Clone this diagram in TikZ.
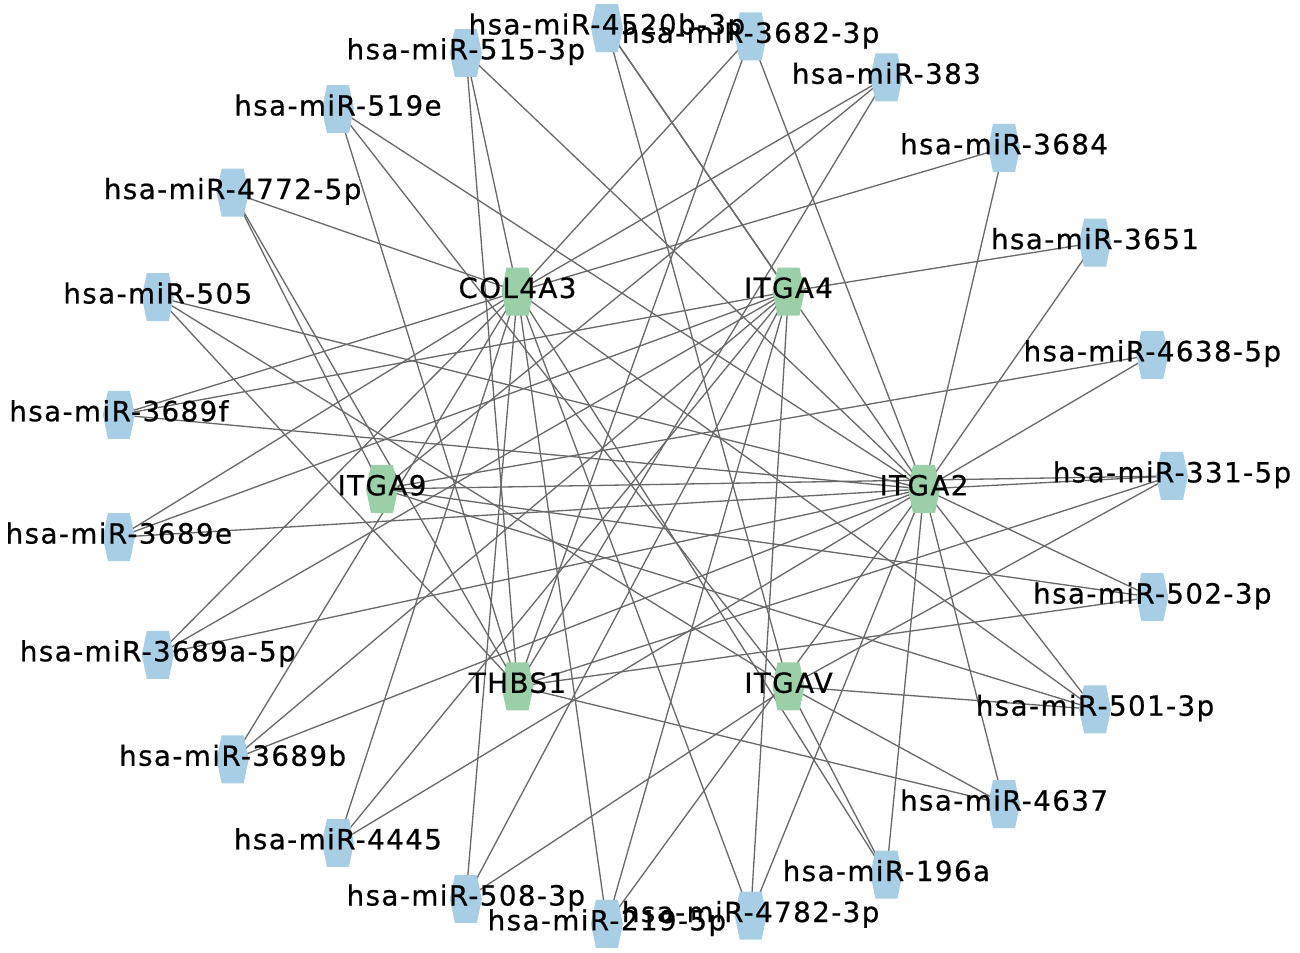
\documentclass[tikz,border=0pt]{standalone}
\usepackage{fontspec}
\newfontfamily\lblfont{DejaVu Sans}[LetterSpace=5,FakeBold=0.6]
\usepackage{tkz-euclide}
\definecolor{MirClr}{RGB}{168,206,230}
\definecolor{GeneClr}{RGB}{155,207,168}
\definecolor{EdgeClr}{RGB}{105,105,105}
\tikzset{
  hexa/.pic={\fill (-0.32,0)--(-0.22,0.48)--(0.22,0.48)--(0.32,0)--(0.22,-0.48)--(-0.22,-0.48)--cycle;},
  lbl/.style={font=\lblfont\fontsize{15.8}{18}\selectfont,inner sep=0pt,text height=0.73em,text depth=0pt}
}

\begin{document}
\begin{tikzpicture}
\useasboundingbox (0,0) rectangle (26,19.06);
\tkzSetUpLine[line width=0.75pt,color=EdgeClr]

% genes
\tkzDefPoint(18.48,9.28){ITGA2}
\tkzDefPoint(15.77,13.229){ITGA4}
\tkzDefPoint(10.35,13.229){COL4A3}
\tkzDefPoint(7.64,9.28){ITGA9}
\tkzDefPoint(10.35,5.331){THBS1}
\tkzDefPoint(15.77,5.331){ITGAV}

% miRNAs
\tkzDefPoint(23.44,9.54){M331}
\tkzDefPoint(23.047,11.963){M4638}
\tkzDefPoint(21.900,14.206){M3651}
\tkzDefPoint(20.081,16.103){M3684}
\tkzDefPoint(17.728,17.513){M383}
\tkzDefPoint(15.013,18.332){M3682}
\tkzDefPoint(12.138,18.499){M4520b}
\tkzDefPoint(9.317,18.002){M515}
\tkzDefPoint(6.759,16.877){M519e}
\tkzDefPoint(4.653,15.207){M4772}
\tkzDefPoint(3.156,13.118){M505}
\tkzDefPoint(2.378,10.763){M3689f}
\tkzDefPoint(2.378,8.317){M3689e}
\tkzDefPoint(3.156,5.962){M3689a}
\tkzDefPoint(4.653,3.873){M3689b}
\tkzDefPoint(6.759,2.203){M4445}
\tkzDefPoint(9.317,1.078){M508}
\tkzDefPoint(12.138,0.581){M219}
\tkzDefPoint(15.013,0.748){M4782}
\tkzDefPoint(17.728,1.567){M196a}
\tkzDefPoint(20.081,2.977){M4637}
\tkzDefPoint(21.900,4.874){M501}
\tkzDefPoint(23.047,7.117){M502}

\tkzDrawSegments(M331,ITGA2 M331,ITGA9 M331,THBS1 M331,ITGAV)
\tkzDrawSegments(M4638,ITGA9 M4638,ITGA2)
\tkzDrawSegments(M3651,ITGA4 M3651,ITGA2)
\tkzDrawSegments(M3684,COL4A3 M3684,ITGA2)
\tkzDrawSegments(M383,COL4A3 M383,ITGA9 M383,THBS1)
\tkzDrawSegments(M3682,COL4A3 M3682,THBS1 M3682,ITGA2)
\tkzDrawSegments(M4520b,ITGAV M4520b,ITGA4 M4520b,ITGA2)
\tkzDrawSegments(M515,COL4A3 M515,THBS1 M515,ITGA2)
\tkzDrawSegments(M519e,THBS1 M519e,ITGA2 M519e,ITGAV)
\tkzDrawSegments(M4772,COL4A3 M4772,ITGA9 M4772,THBS1)
\tkzDrawSegments(M505,THBS1 M505,ITGA2 M505,ITGAV)
\tkzDrawSegments(M3689f,COL4A3 M3689f,ITGA4 M3689f,ITGA2)
\tkzDrawSegments(M3689e,COL4A3 M3689e,ITGA4 M3689e,ITGA2)
\tkzDrawSegments(M3689a,COL4A3 M3689a,ITGA4 M3689a,ITGA2)
\tkzDrawSegments(M3689b,COL4A3 M3689b,ITGA4 M3689b,ITGA2)
\tkzDrawSegments(M4445,COL4A3 M4445,ITGA4 M4445,ITGA2)
\tkzDrawSegments(M508,COL4A3 M508,ITGA4 M508,ITGAV)
\tkzDrawSegments(M219,COL4A3 M219,ITGA4 M219,ITGA2)
\tkzDrawSegments(M4782,COL4A3 M4782,ITGA4 M4782,ITGA2)
\tkzDrawSegments(M196a,ITGA2 M196a,ITGAV M196a,COL4A3)
\tkzDrawSegments(M4637,ITGA2 M4637,THBS1 M4637,ITGAV)
\tkzDrawSegments(M501,ITGAV M501,COL4A3 M501,ITGA9 M501,ITGA2)
\tkzDrawSegments(M502,ITGA2 M502,ITGA9 M502,THBS1)

% hexagons
\foreach \g in {ITGA2,ITGA4,COL4A3,ITGA9,THBS1,ITGAV}
  \pic[color=GeneClr] at (\g) {hexa};
\foreach \m in {M331,M4638,M3651,M3684,M383,M3682,M4520b,M515,M519e,M4772,M505,M3689f,M3689e,M3689a,M3689b,M4445,M508,M219,M4782,M196a,M4637,M501,M502}
  \pic[color=MirClr] at (\m) {hexa};

% labels
\node[lbl] (nITGA2) at (ITGA2) {ITGA2};
\node[lbl] (nITGA4) at (ITGA4) {ITGA4};
\node[lbl] (nCOL4A3) at (COL4A3) {COL4A3};
\node[lbl] (nITGA9) at (ITGA9) {ITGA9};
\node[lbl] (nTHBS1) at (THBS1) {THBS1};
\node[lbl] (nITGAV) at (ITGAV) {ITGAV};

\node[lbl] (n331) at (M331) {hsa-miR-331-5p};
\node[lbl] (n4638) at (M4638) {hsa-miR-4638-5p};
\node[lbl] (n3651) at (M3651) {hsa-miR-3651};
\node[lbl] (n3684) at (M3684) {hsa-miR-3684};
\node[lbl] (n383) at (M383) {hsa-miR-383};
\node[lbl] (n3682) at (M3682) {hsa-miR-3682-3p};
\node[lbl] (n4520b) at (M4520b) {hsa-miR-4520b-3p};
\node[lbl] (n515) at (M515) {hsa-miR-515-3p};
\node[lbl] (n519e) at (M519e) {hsa-miR-519e};
\node[lbl] (n4772) at (M4772) {hsa-miR-4772-5p};
\node[lbl] (n505) at (M505) {hsa-miR-505};
\node[lbl] (n3689f) at (M3689f) {hsa-miR-3689f};
\node[lbl] (n3689e) at (M3689e) {hsa-miR-3689e};
\node[lbl] (n3689a) at (M3689a) {hsa-miR-3689a-5p};
\node[lbl] (n3689b) at (M3689b) {hsa-miR-3689b};
\node[lbl] (n4445) at (M4445) {hsa-miR-4445};
\node[lbl] (n508) at (M508) {hsa-miR-508-3p};
\node[lbl] (n219) at (M219) {hsa-miR-219-5p};
\node[lbl] (n4782) at (M4782) {hsa-miR-4782-3p};
\node[lbl] (n196a) at (M196a) {hsa-miR-196a};
\node[lbl] (n4637) at (M4637) {hsa-miR-4637};
\node[lbl] (n501) at (M501) {hsa-miR-501-3p};
\node[lbl] (n502) at (M502) {hsa-miR-502-3p};

\end{tikzpicture}
\end{document}
